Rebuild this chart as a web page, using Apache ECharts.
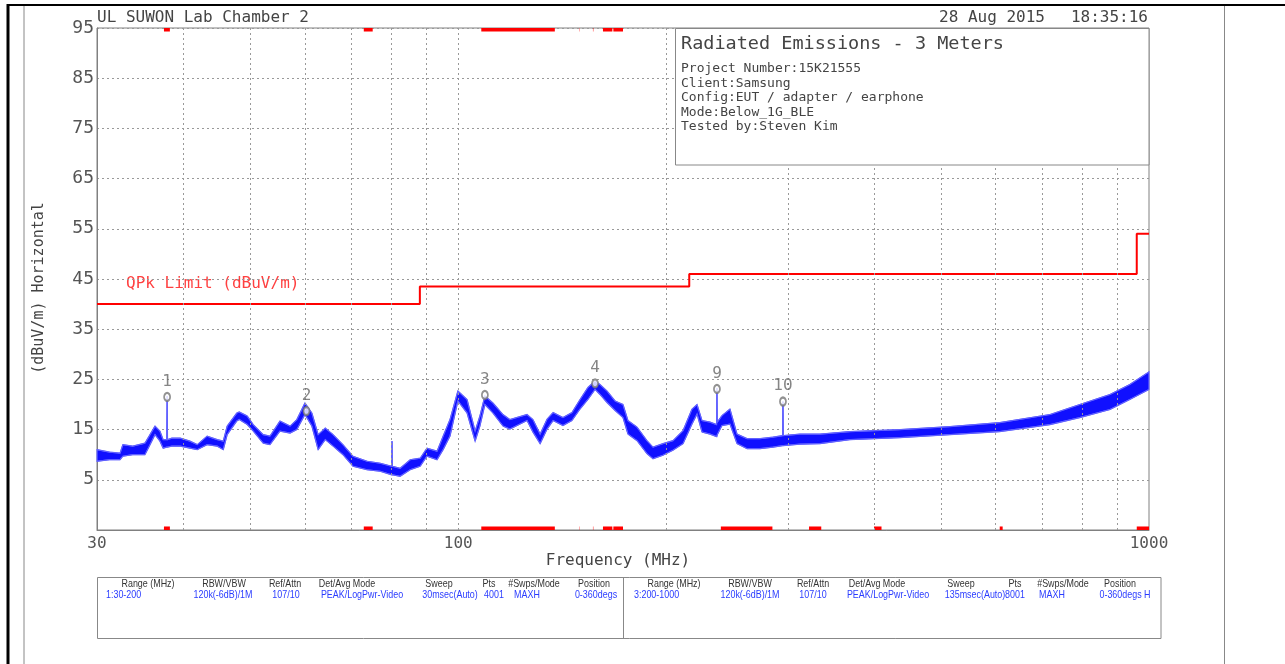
<!DOCTYPE html>
<html><head><meta charset="utf-8">
<script src="https://cdn.jsdelivr.net/npm/echarts@6/dist/echarts.min.js"></script>
<style>html,body{margin:0;padding:0;background:#fff}#c{width:1285px;height:664px}</style>
</head><body><div id="c"></div>
<script>
// ---- data ----
const traceFreq = [30,31.3,32.4,32.7,33.8,35.2,35.8,36.4,37.0,37.4,37.85,37.9,37.95,38.5,39.6,40.9,41.9,43.3,44.8,45.7,46.3,47.8,48.2,49.5,50.5,52.2,53.4,55.2,57.1,58.4,60.0,61.4,62.7,64.2,65.9,68.1,70.4,73.8,77.1,80.1,80.2,80.3,82.4,85.2,88.1,90.1,93.2,95.1,97.3,99.9,103,105.8,107.5,109.3,112.3,116.1,118.8,125.8,128.3,131.4,134.5,137.2,141.8,146.1,150.1,154.1,157.8,160.4,164.2,168.7,173.2,176.1,181.5,187.6,191.4,197.9,204.6,211.6,218.0,221.7,225.4,231.5,236.6,236.9,237.2,240.9,247.4,253.3,261.9,273.5,285.6,294.8,295.2,295.6,312.4,334,369,436,515,608,719,794,878,938,1000];
const traceHigh = [11.0,10.5,10.3,12.0,11.7,12.3,14.0,15.7,14.7,13.0,13.0,21.7,13.0,13.3,13.3,12.7,12.0,13.7,13.0,12.7,15.7,18.3,18.5,17.7,16.0,14.0,13.7,16.7,15.7,17.0,20.3,18.3,14.0,15.3,14.0,12.0,9.7,8.7,8.3,7.7,12.7,7.7,7.3,9.0,9.3,11.3,10.7,13.7,17.0,22.7,21.0,14.7,17.7,21.7,20.3,18.0,17.0,18.0,17.0,14.1,17.1,18.4,17.4,18.4,21.0,23.4,24.7,24.0,22.7,20.7,20.0,16.8,15.5,12.8,11.5,12.2,12.8,14.8,19.1,20.0,16.8,16.5,16.0,23.3,16.5,17.8,19.1,14.1,13.2,13.2,13.5,13.8,20.6,13.8,14.1,14.1,14.6,15.0,15.6,16.4,18.0,20.0,22.0,24.0,26.5];
const traceLow = [8.7,9.0,9.0,9.7,10.0,10.0,12.0,14.0,12.7,11.3,11.5,11.5,11.5,11.7,11.7,11.3,11.0,12.0,11.7,11.0,14.0,16.7,17.0,16.0,14.7,12.3,12.0,14.7,14.3,15.0,18.0,15.7,11.0,13.0,11.7,10.0,7.7,7.0,6.7,6.0,6.0,6.0,5.7,7.0,7.7,9.7,9.0,11.0,13.7,20.7,18.3,12.7,15.7,20.0,18.3,15.7,15.1,16.8,14.5,12.2,15.1,16.8,15.8,16.8,19.1,21.0,23.0,22.0,20.4,18.8,17.4,14.1,12.8,10.2,9.2,9.9,10.9,12.2,16.1,18.1,14.5,14.1,13.6,13.6,14.0,15.8,16.1,12.2,11.2,11.2,11.5,11.8,11.8,11.8,12.1,12.2,13.0,13.4,14.0,14.6,16.0,17.4,19.0,21.0,23.0];
const limitEdges = [30, 88, 216, 960, 1000];
const limitLevels = [40, 43.5, 46, 54];
const markerNames = ['1','2','3','4','9','10'];
const markerFreq = [37.9, 60.3, 109.3, 157.8, 236.9, 295.2];
const markerLevel = [21.5, 18.7, 21.9, 24.2, 23.1, 20.6];
const restrictedBands = [[37.5,38.25],[73,75.2],[108,138],[149.9,150.05],[156.52475,156.52525],[156.7,156.9],[162.0125,167.17],[167.72,173.2],[240,285],[322,335.4],[399.9,410],[608,614],[960,1000]];
const gridFreqs = [40,50,60,70,80,90,100,200,300,400,500,600,700,800,900];
const xTickLabels = [30, 100, 1000];
const yMin = -5, yMax = 95, yStep = 10;
const infoLines = ['Project Number:15K21555','Client:Samsung','Config:EUT / adapter / earphone','Mode:Below_1G_BLE','Tested by:Steven Kim'];
const tableHeaders = ['Range (MHz)','RBW/VBW','Ref/Attn','Det/Avg Mode','Sweep','Pts','#Swps/Mode','Position'];
const tableRow1 = ['1:30-200','120k(-6dB)/1M','107/10','PEAK/LogPwr-Video','30msec(Auto)','4001','MAXH','0-360degs'];
const tableRow2 = ['3:200-1000','120k(-6dB)/1M','107/10','PEAK/LogPwr-Video','135msec(Auto)','8001','MAXH','0-360degs H'];

// ---- build ----
const OFF = -yMin; // axis shifted so ticks fall on the reference's 5,15,...,95
const sh = v => v + OFF;
const highData = traceFreq.map((f,i)=>[f, sh(traceHigh[i])]);
const lowData = traceFreq.map((f,i)=>[f, sh(traceLow[i])]);
const limitData = [];
limitLevels.forEach((L,i)=>{ limitData.push([limitEdges[i], sh(L)]); limitData.push([limitEdges[i+1], sh(L)]); });
const markerData = markerFreq.map((f,i)=>({value:[f, sh(markerLevel[i])], name:markerNames[i]}));
const bandAreas = [];
restrictedBands.forEach(b=>{
  bandAreas.push([{coord:[b[0], sh(yMax)-0.7]},{coord:[b[1], sh(yMax)]}]);
  bandAreas.push([{coord:[b[0], sh(yMin)]},{coord:[b[1], sh(yMin)+0.7]}]);
});

const MONO = '"DejaVu Sans Mono", monospace';
const g = [];
function txt(t,x,y,size,color,align,font,extra){
  g.push(Object.assign({type:'text', x:x, y:y, silent:true, style:{text:t, font:(size+'px '+(font||MONO)), fill:color, textAlign:align||'left', textVerticalAlign:'middle', align:align||'left', verticalAlign:'middle'}}, extra||{}));
}
function line(x1,y1,x2,y2,color,w){ g.push({type:'line', silent:true, shape:{x1,y1,x2,y2}, style:{stroke:color, lineWidth:w}}); }
// page frame
line(8,5,1285,5,'#000',2);
line(8,4,8,664,'#000',3);
line(24,6,24,664,'#888',1);
line(1224.5,6,1224.5,664,'#888',1);
// header texts
txt('UL SUWON Lab Chamber 2', 97, 18, 16, '#444');
txt('28 Aug 2015', 1045, 18, 16, '#444', 'right');
txt('18:35:16', 1148, 18, 16, '#444', 'right');
// info box
g.push({type:'rect', silent:true, shape:{x:675.5, y:28.5, width:473.5, height:136.5}, style:{fill:'#fff', stroke:'#888', lineWidth:1}, z:50});
txt('Radiated Emissions - 3 Meters', 681, 44, 18.5, '#444', 'left', MONO, {z:51});
infoLines.forEach((t,i)=>txt(t, 681, 69 + i*14.5, 13, '#444', 'left', MONO, {z:51}));
// legend
txt('QPk Limit (dBuV/m)', 126, 284, 16, '#ff4040');
// axis names
txt('Frequency (MHz)', 618, 561, 16, '#444', 'center');
txt('(dBuV/m) Horizontal', 39, 288, 15, '#444', 'center', MONO, {rotation:Math.PI/2});
// table
g.push({type:'rect', silent:true, shape:{x:97.5, y:577.5, width:1063.5, height:61}, style:{fill:'none', stroke:'#888', lineWidth:1}});
line(623.5,577.5,623.5,638.5,'#888',1);
const SANS = '"Liberation Sans", sans-serif';
const hdrX1 = [148,224,285,347,439,489,534,594];
const valX1 = [106,223,286,362,450,494,527,596];
const hdrX2 = [674,750,813,877,961,1015,1063,1120];
const valX2 = [634,750,813,888,975,1015,1052,1125];
const sq = {scaleX:0.85};
tableHeaders.forEach((h,i)=>{ txt(h, hdrX1[i], 584.5, 10.5, '#333', 'center', SANS, sq); txt(h, hdrX2[i], 584.5, 10.5, '#333', 'center', SANS, sq); });
tableRow1.forEach((v,i)=>txt(v, valX1[i], 595, 10.5, '#2a3cff', i===0?'left':'center', SANS, sq));
tableRow2.forEach((v,i)=>txt(v, valX2[i], 595, 10.5, '#2a3cff', i===0?'left':'center', SANS, sq));

const chart = echarts.init(document.getElementById('c'), null, {renderer:'canvas'});
chart.setOption({
  animation:false,
  backgroundColor:'#fff',
  grid:{left:97, right:136, top:28, bottom:134, show:true, borderColor:'#808080', borderWidth:1, backgroundColor:'transparent'},
  xAxis:{type:'log', logBase:10, min:xTickLabels[0], max:xTickLabels[xTickLabels.length-1],
    axisLine:{show:true, lineStyle:{color:'#808080'}}, axisTick:{show:false},
    splitLine:{show:false},
    axisLabel:{show:true, color:'#555', fontFamily:MONO, fontSize:16, margin:6,
      formatter:v=>{ const r=Math.round(v); return xTickLabels.includes(r)? String(r):''; }}},
  yAxis:{type:'value', min:sh(yMin), max:sh(yMax), interval:yStep,
    axisLine:{show:true, lineStyle:{color:'#808080'}}, axisTick:{show:false},
    splitLine:{show:true, lineStyle:{color:'#999', type:[2,3], width:1}},
    axisLabel:{color:'#555', fontFamily:MONO, fontSize:18, margin:3,
      formatter:v=> (v<=0 ? '' : String(Math.round(v-OFF)))}},
  series:[
    {type:'line', name:'gridlines', data:[], symbol:'none', silent:true,
      markLine:{silent:true, symbol:'none', label:{show:false}, animation:false,
        lineStyle:{color:'#999', type:[2,3], width:1}, data:gridFreqs.map(f=>({xAxis:f}))}},
    {type:'custom', name:'traceBand', data:[[traceFreq[0], sh(traceLow[0])]], z:3, silent:true,
      encode:{x:0, y:1},
      renderItem:(params, api)=>{
        const pts = [];
        for (let i=0;i<traceFreq.length;i++) pts.push(api.coord([traceFreq[i], sh(traceHigh[i])]));
        for (let i=traceFreq.length-1;i>=0;i--) pts.push(api.coord([traceFreq[i], sh(traceLow[i])]));
        return {type:'polygon', shape:{points:pts}, style:{fill:'#1010ff', stroke:'#6a6aff', lineWidth:1.2}};
      }},
    {type:'line', name:'traceHigh', data:highData, symbol:'none', z:3, silent:true,
      lineStyle:{color:'#6060ff', width:1}},
    {type:'line', name:'traceLow', data:lowData, symbol:'none', z:3, silent:true,
      lineStyle:{color:'#6060ff', width:1}},
    {type:'line', name:'QPk Limit (dBuV/m)', data:limitData, symbol:'none', z:4,
      lineStyle:{color:'#ff0000', width:2},
      markArea:{silent:true, itemStyle:{color:'#ff0000'}, data:bandAreas}},
    {type:'scatter', name:'markers', data:markerData, symbol:'emptyCircle', symbolSize:[6,8], z:5,
      itemStyle:{color:'#777', borderColor:'#777', borderWidth:1},
      label:{show:true, position:'top', distance:2, formatter:p=>p.name, color:'#666', fontFamily:MONO, fontSize:16}}
  ],
  graphic:g
});
</script></body></html>
